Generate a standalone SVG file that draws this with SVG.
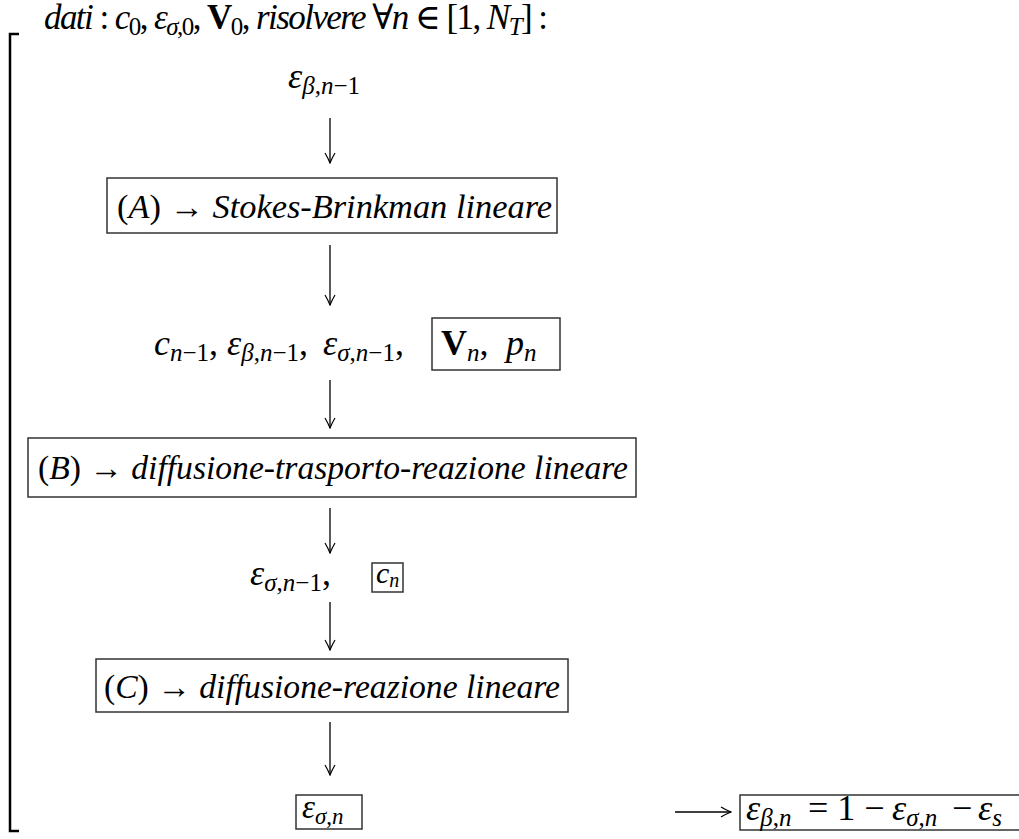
<svg xmlns="http://www.w3.org/2000/svg" width="1019" height="839" viewBox="0 0 1019 839">
<defs>
<style>
text{font-family:"Liberation Serif","DejaVu Serif",serif;font-size:36px;fill:#000}
.i{font-style:italic}
.b{font-weight:bold}
.s{font-size:25px}
.t{font-size:33px}
.box{fill:none;stroke:#333;stroke-width:1.5}
.ln{stroke:#000;stroke-width:1.3;fill:none}
.br{stroke:#000;stroke-width:2.5;fill:none}
</style>
<marker id="ah" viewBox="0 0 12 12" refX="11" refY="6" markerWidth="12" markerHeight="12" markerUnits="userSpaceOnUse" orient="auto">
<path d="M1,1 Q6,4 11,6 Q6,8 1,11" fill="none" stroke="#000" stroke-width="1.2"/>
</marker>
</defs>
<rect width="1019" height="839" fill="#fff"/>
<g id="bracket">
<path class="br" d="M19,34 H10 V831 H19"/>
</g>
<g id="header">
<text x="44" y="29" style="font-size:35px" textLength="504" lengthAdjust="spacing"><tspan class="i">dati</tspan> : <tspan class="i">c</tspan><tspan class="s" dy="6">0</tspan><tspan dy="-6">, </tspan><tspan class="i">ε</tspan><tspan class="s i" dy="6">σ</tspan><tspan class="s">,0</tspan><tspan dy="-6">, </tspan><tspan class="b">V</tspan><tspan class="s" dy="6">0</tspan><tspan dy="-6">,  </tspan><tspan class="i">risolvere</tspan> ∀<tspan class="i">n</tspan> ∈ [1, <tspan class="i">N</tspan><tspan class="s i" dy="6">T</tspan><tspan dy="-6">] :</tspan></text>
</g>
<g id="n0">
<text x="288" y="88"><tspan class="i">ε</tspan><tspan class="s" dy="6"><tspan class="i">β</tspan>,<tspan class="i">n</tspan>−1</tspan></text>
</g>
<g id="nA">
<rect class="box" x="107" y="178" width="450" height="55"/>
<text class="t" x="117" y="218" textLength="435" lengthAdjust="spacingAndGlyphs">(<tspan class="i">A</tspan>) → <tspan class="i">Stokes-Brinkman lineare</tspan></text>
</g>
<g id="n1">
<text x="154" y="355"><tspan class="i">c</tspan><tspan class="s" dy="6"><tspan class="i">n</tspan>−1</tspan><tspan dy="-6">,</tspan></text>
<text x="227" y="355"><tspan class="i">ε</tspan><tspan class="s" dy="6"><tspan class="i">β</tspan>,<tspan class="i">n</tspan>−1</tspan><tspan dy="-6">,</tspan></text>
<text x="323" y="355"><tspan class="i">ε</tspan><tspan class="s" dy="6"><tspan class="i">σ</tspan>,<tspan class="i">n</tspan>−1</tspan><tspan dy="-6">,</tspan></text>
<rect class="box" x="432" y="318" width="128" height="52"/>
<text x="441" y="355"><tspan class="b">V</tspan><tspan class="s i" dy="6">n</tspan><tspan dy="-6">,</tspan></text>
<text x="506" y="355"><tspan class="i">p</tspan><tspan class="s i" dy="6">n</tspan></text>
</g>
<g id="nB">
<rect class="box" x="28" y="438" width="608" height="59"/>
<text class="t" x="38" y="479" textLength="590" lengthAdjust="spacingAndGlyphs">(<tspan class="i">B</tspan>) → <tspan class="i">diffusione-trasporto-reazione lineare</tspan></text>
</g>
<g id="n2">
<text x="250" y="585"><tspan class="i">ε</tspan><tspan class="s" dy="6"><tspan class="i">σ</tspan>,<tspan class="i">n</tspan>−1</tspan><tspan dy="-6">,</tspan></text>
<rect class="box" x="372" y="563" width="31" height="29"/>
<text x="376" y="583" style="font-size:30px"><tspan class="i">c</tspan><tspan class="i" style="font-size:20px" dy="4">n</tspan></text>
</g>
<g id="nC">
<rect class="box" x="96" y="659" width="472" height="53"/>
<text class="t" x="104" y="698" textLength="456" lengthAdjust="spacingAndGlyphs">(<tspan class="i">C</tspan>) → <tspan class="i">diffusione-reazione lineare</tspan></text>
</g>
<g id="n3">
<rect class="box" x="296" y="795" width="66" height="34"/>
<text x="302" y="818" style="font-size:33px"><tspan class="i">ε</tspan><tspan class="i" style="font-size:23px" dy="6">σ</tspan><tspan style="font-size:23px">,</tspan><tspan class="i" style="font-size:23px">n</tspan></text>
</g>
<g id="n4">
<rect class="box" x="740" y="795" width="300" height="35"/>
<text x="746" y="820"><tspan class="i">ε</tspan><tspan class="s" dy="6"><tspan class="i">β</tspan>,<tspan class="i">n</tspan></tspan></text>
<text x="808" y="820">= 1 −</text>
<text x="892" y="820"><tspan class="i">ε</tspan><tspan class="s" dy="6"><tspan class="i">σ</tspan>,<tspan class="i">n</tspan></tspan></text>
<text x="952" y="820">−</text>
<text x="978" y="820"><tspan class="i">ε</tspan><tspan class="s i" dy="6">s</tspan></text>
</g>
<g id="connectors">
<line class="ln" x1="330" y1="118" x2="330" y2="163" marker-end="url(#ah)"/>
<line class="ln" x1="330" y1="245" x2="330" y2="305" marker-end="url(#ah)"/>
<line class="ln" x1="330" y1="380" x2="330" y2="428" marker-end="url(#ah)"/>
<line class="ln" x1="330" y1="508" x2="330" y2="553" marker-end="url(#ah)"/>
<line class="ln" x1="330" y1="602" x2="330" y2="650" marker-end="url(#ah)"/>
<line class="ln" x1="330" y1="722" x2="330" y2="775" marker-end="url(#ah)"/>
<line class="ln" x1="675" y1="812" x2="731" y2="812" marker-end="url(#ah)"/>
</g>
</svg>
